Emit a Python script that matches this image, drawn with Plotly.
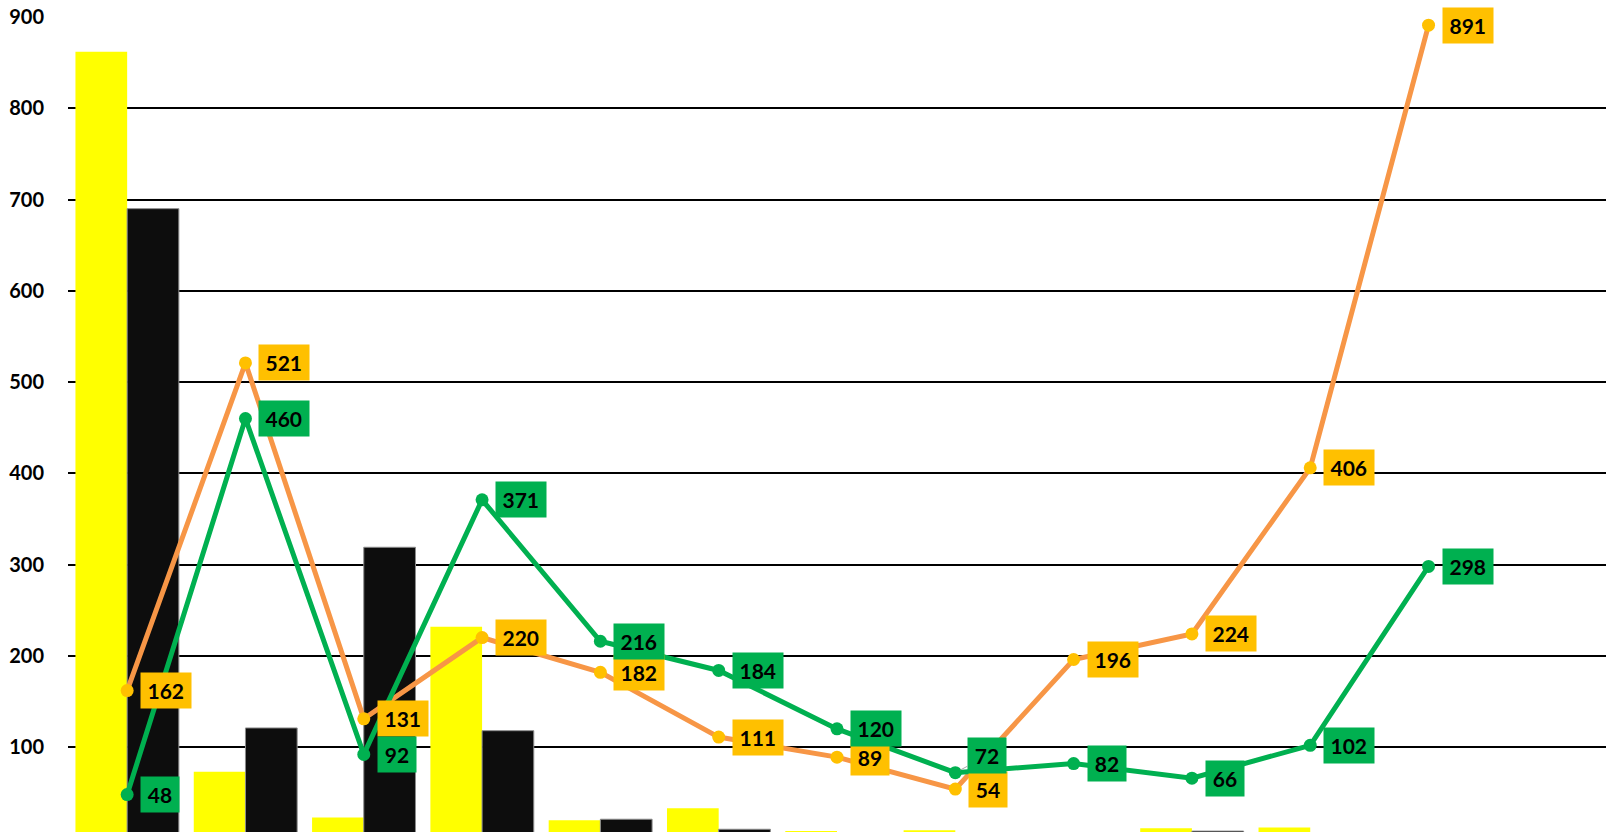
import plotly.graph_objects as go

# ---------------- data ----------------
categories = ["C01", "C02", "C03", "C04", "C05", "C06", "C07", "C08", "C09", "C10", "C11", "C12", "C13"]
yellow_bars = [862, 73, 23, 232, 20, 33, 8, 9, 0, 11, 12, 0, None]
black_bars = [690, 121, 319, 118, 21, 10, 0, 0, 0, 8, 0, 0, None]
orange_line = [162, 521, 131, 220, 182, 111, 89, 54, 196, 224, 406, 891, None]
green_line = [48, 460, 92, 371, 216, 184, 120, 72, 82, 66, 102, 298, None]
y_tick_values = [0, 100, 200, 300, 400, 500, 600, 700, 800, 900]
y_tick_labels = ["0", "100", "200", "300", "400", "500", "600", "700", "800", "900"]

# ---------------- style ----------------
YELLOW = "#FFFF00"
BLACK = "#0D0D0D"
ORANGE_LINE = "#F79646"
ORANGE_MARK = "#FFC000"
GREEN = "#00B050"
FONT = "Lato, 'Open Sans', sans-serif"

fig = go.Figure()
fig.add_trace(go.Bar(x=categories, y=yellow_bars, marker=dict(color=YELLOW, line=dict(width=0)),
                     name="yellow"))
fig.add_trace(go.Bar(x=categories, y=black_bars, marker=dict(color=BLACK, line=dict(color="#8C8C8C", width=1)),
                     name="black"))
fig.add_trace(go.Scatter(x=categories, y=orange_line, mode="lines+markers",
                         line=dict(color=ORANGE_LINE, width=5),
                         marker=dict(color=ORANGE_MARK, size=13, line=dict(width=0)),
                         name="orange"))
fig.add_trace(go.Scatter(x=categories, y=green_line, mode="lines+markers",
                         line=dict(color=GREEN, width=5),
                         marker=dict(color=GREEN, size=13, line=dict(width=0)),
                         name="green"))

# data labels
raised = {("green", 7): (32, -17)}
annotations = []
for key, series, color in (("orange", orange_line, ORANGE_MARK), ("green", green_line, GREEN)):
    for i, v in enumerate(series):
        if v is None:
            continue
        txt = str(v)
        common = dict(x=categories[i], y=v, xref="x", yref="y", text=txt,
                      font=dict(family=FONT, size=21, color="black", weight="bold"),
                      bgcolor=color, borderpad=5, width=11.5 * len(txt) + 5, align="center")
        if (key, i) in raised:
            ax, ay = raised[(key, i)]
            annotations.append(dict(**common, showarrow=True, ax=ax, ay=ay, axref="pixel", ayref="pixel",
                                    arrowhead=0, arrowwidth=1, arrowcolor="#A6A6A6", standoff=6))
        else:
            annotations.append(dict(**common, showarrow=False, xanchor="left", yanchor="middle", xshift=13))

# partially visible zero tick label (axis bottom is cut off)
annotations.append(dict(x=0, y=0, xref="paper", yref="y", text="0", showarrow=False,
                        xanchor="right", yanchor="middle", xshift=-21,
                        font=dict(family=FONT, size=20, color="black", weight="bold")))

fig.update_layout(
    width=1611, height=832,
    margin=dict(l=68, r=5, t=17, b=0),
    paper_bgcolor="white", plot_bgcolor="white",
    barmode="group", bargap=0.126, bargroupgap=0,
    showlegend=False,
    annotations=annotations,
    font=dict(family=FONT, color="black"),
)
fig.update_xaxes(type="category", categoryorder="array", categoryarray=categories,
                 range=[-0.5, 12.5], showgrid=False, showline=False,
                 showticklabels=False, ticks="", zeroline=False, automargin=False)
fig.update_yaxes(range=[7, 900], tickvals=y_tick_values, ticktext=y_tick_labels,
                 showgrid=True, gridcolor="black", gridwidth=2, zeroline=False, showline=False,
                 ticks="outside", ticklen=19, tickcolor="rgba(0,0,0,0)",
                 tickfont=dict(family=FONT, size=20, color="black", weight="bold"),
                 automargin=False)

fig.write_html("out.html", config={"displayModeBar": False},
               post_script="document.body.style.margin='0';document.body.style.overflow='hidden';"
                           "document.documentElement.style.overflow='hidden';")
